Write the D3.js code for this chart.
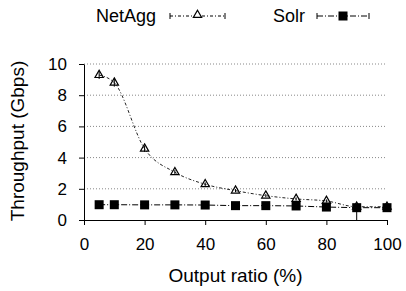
<!DOCTYPE html>
<html>
<head>
<meta charset="utf-8">
<script src="https://cdn.jsdelivr.net/npm/d3@7"></script>
<style>
  body { margin: 0; background: #fff; }
  svg { font-family: "Liberation Sans", Arial, sans-serif; }
</style>
</head>
<body>
<div id="chart"></div>
<script>
const ratios = [5, 10, 20, 30, 40, 50, 60, 70, 80, 90, 100];
const netagg = [9.29, 8.8, 4.57, 3.06, 2.29, 1.88, 1.56, 1.35, 1.22, 0.85, 0.85];
const netaggErr = [0.25, 0.25, 0.2, 0.15, 0.12, 0.1, 0.1, 0.1, 0.1, 0.1, 0.1];
const solr = [0.98, 0.98, 0.97, 0.97, 0.96, 0.92, 0.92, 0.9, 0.83, 0.79, 0.79];
const solrErrLow = [0.03, 0.03, 0.03, 0.03, 0.03, 0.03, 0.03, 0.03, 0.03, 0.79, 0.03];
const yTicks = [0, 2, 4, 6, 8, 10];
const xTicks = [0, 20, 40, 60, 80, 100];

const W = 406, H = 291;
const x = d3.scaleLinear().domain([0, 100]).range([84, 387]);
const y = d3.scaleLinear().domain([0, 10]).range([220, 64]);

const svg = d3.select("#chart").append("svg").attr("width", W).attr("height", H);

// grid
svg.selectAll("line.grid")
  .data(yTicks.filter((d) => d > 0))
  .enter()
  .append("line")
  .attr("class", "grid")
  .attr("x1", x(0))
  .attr("x2", x(100))
  .attr("y1", (d) => y(d))
  .attr("y2", (d) => y(d))
  .style("stroke", "#888")
  .style("stroke-width", 1)
  .style("stroke-dasharray", "1,2");

// axes
const yAxis = svg.append("g")
  .attr("transform", `translate(${x(0)},0)`)
  .call(d3.axisLeft(y).tickValues(yTicks).tickSize(5).tickSizeOuter(0).tickPadding(12));
const xAxis = svg.append("g")
  .attr("transform", `translate(0,${y(0)})`)
  .call(d3.axisBottom(x).tickValues(xTicks).tickSize(5).tickSizeOuter(0).tickPadding(13));
[yAxis, xAxis].forEach((g) => {
  g.selectAll("text").style("font-size", "17px").style("fill", "#000")
    .style("font-family", "Liberation Sans, Arial, sans-serif");
  g.selectAll("line").style("stroke", "#000");
  g.select(".domain").style("stroke", "#000");
});

svg.append("text")
  .attr("x", (x(0) + x(100)) / 2)
  .attr("y", 282)
  .attr("text-anchor", "middle")
  .style("font-size", "19px")
  .text("Output ratio (%)");

svg.append("text")
  .attr("transform", "translate(24,141) rotate(-90)")
  .attr("text-anchor", "middle")
  .style("font-size", "19px")
  .text("Throughput (Gbps)");

// series
const solrLine = d3.line().x((d, i) => x(ratios[i])).y((d) => y(d));
svg.append("path")
  .datum(solr)
  .attr("d", solrLine)
  .style("fill", "none")
  .style("stroke", "#000")
  .style("stroke-width", 1)
  .style("stroke-dasharray", "6,2,1,2");

const netLine = d3.line().curve(d3.curveMonotoneX).x((d, i) => x(ratios[i])).y((d) => y(d));
svg.append("path")
  .datum(netagg)
  .attr("d", netLine)
  .style("fill", "none")
  .style("stroke", "#222")
  .style("stroke-width", 1)
  .style("stroke-dasharray", "3,2,1,2");

// error bars
svg.selectAll("line.solrerr")
  .data(solr)
  .enter()
  .append("line")
  .attr("x1", (d, i) => x(ratios[i]))
  .attr("x2", (d, i) => x(ratios[i]))
  .attr("y1", (d, i) => y(d - solrErrLow[i]))
  .attr("y2", (d) => y(d + 0.03))
  .style("stroke", "#000");

svg.selectAll("line.neterr")
  .data(netagg)
  .enter()
  .append("line")
  .attr("x1", (d, i) => x(ratios[i]))
  .attr("x2", (d, i) => x(ratios[i]))
  .attr("y1", (d, i) => y(d - netaggErr[i]))
  .attr("y2", (d, i) => y(d + netaggErr[i]))
  .style("stroke", "#000");

const tri = d3.symbol().type(d3.symbolTriangle).size(30);
svg.selectAll("path.tri")
  .data(netagg)
  .enter()
  .append("path")
  .attr("class", "tri")
  .attr("transform", (d, i) => `translate(${x(ratios[i])},${y(d)})`)
  .attr("d", tri)
  .style("fill", "none")
  .style("stroke", "#000")
  .style("stroke-width", 1.2);

svg.selectAll("rect.sq")
  .data(solr)
  .enter()
  .append("rect")
  .attr("x", (d, i) => x(ratios[i]) - 4.5)
  .attr("y", (d) => y(d) - 4.5)
  .attr("width", 9)
  .attr("height", 9)
  .style("fill", "#000");

// legend
const legend = [
  { name: "NetAgg", tx: 156, x1: 170, x2: 225, dash: "3,2,1,2", mark: "tri" },
  { name: "Solr", tx: 305, x1: 317, x2: 369, dash: "6,2,1,2", mark: "sq" },
];
legend.forEach((l) => {
  const g = svg.append("g");
  g.append("text")
    .attr("x", l.tx)
    .attr("y", 22)
    .attr("text-anchor", "end")
    .style("font-size", "18px")
    .text(l.name);
  g.append("line")
    .attr("x1", l.x1).attr("x2", l.x2).attr("y1", 16).attr("y2", 16)
    .style("stroke", "#000").style("stroke-dasharray", l.dash);
  [l.x1, l.x2].forEach((cx) => {
    g.append("line")
      .attr("x1", cx).attr("x2", cx).attr("y1", 13).attr("y2", 19)
      .style("stroke", "#000");
  });
  const mx = (l.x1 + l.x2) / 2;
  if (l.mark === "tri") {
    g.append("path")
      .attr("transform", `translate(${mx},15)`)
      .attr("d", tri)
      .style("fill", "#fff").style("stroke", "#000").style("stroke-width", 1.2);
  } else {
    g.append("rect")
      .attr("x", mx - 4.5).attr("y", 11.5).attr("width", 9).attr("height", 9)
      .style("fill", "#000");
  }
});
</script>
</body>
</html>
